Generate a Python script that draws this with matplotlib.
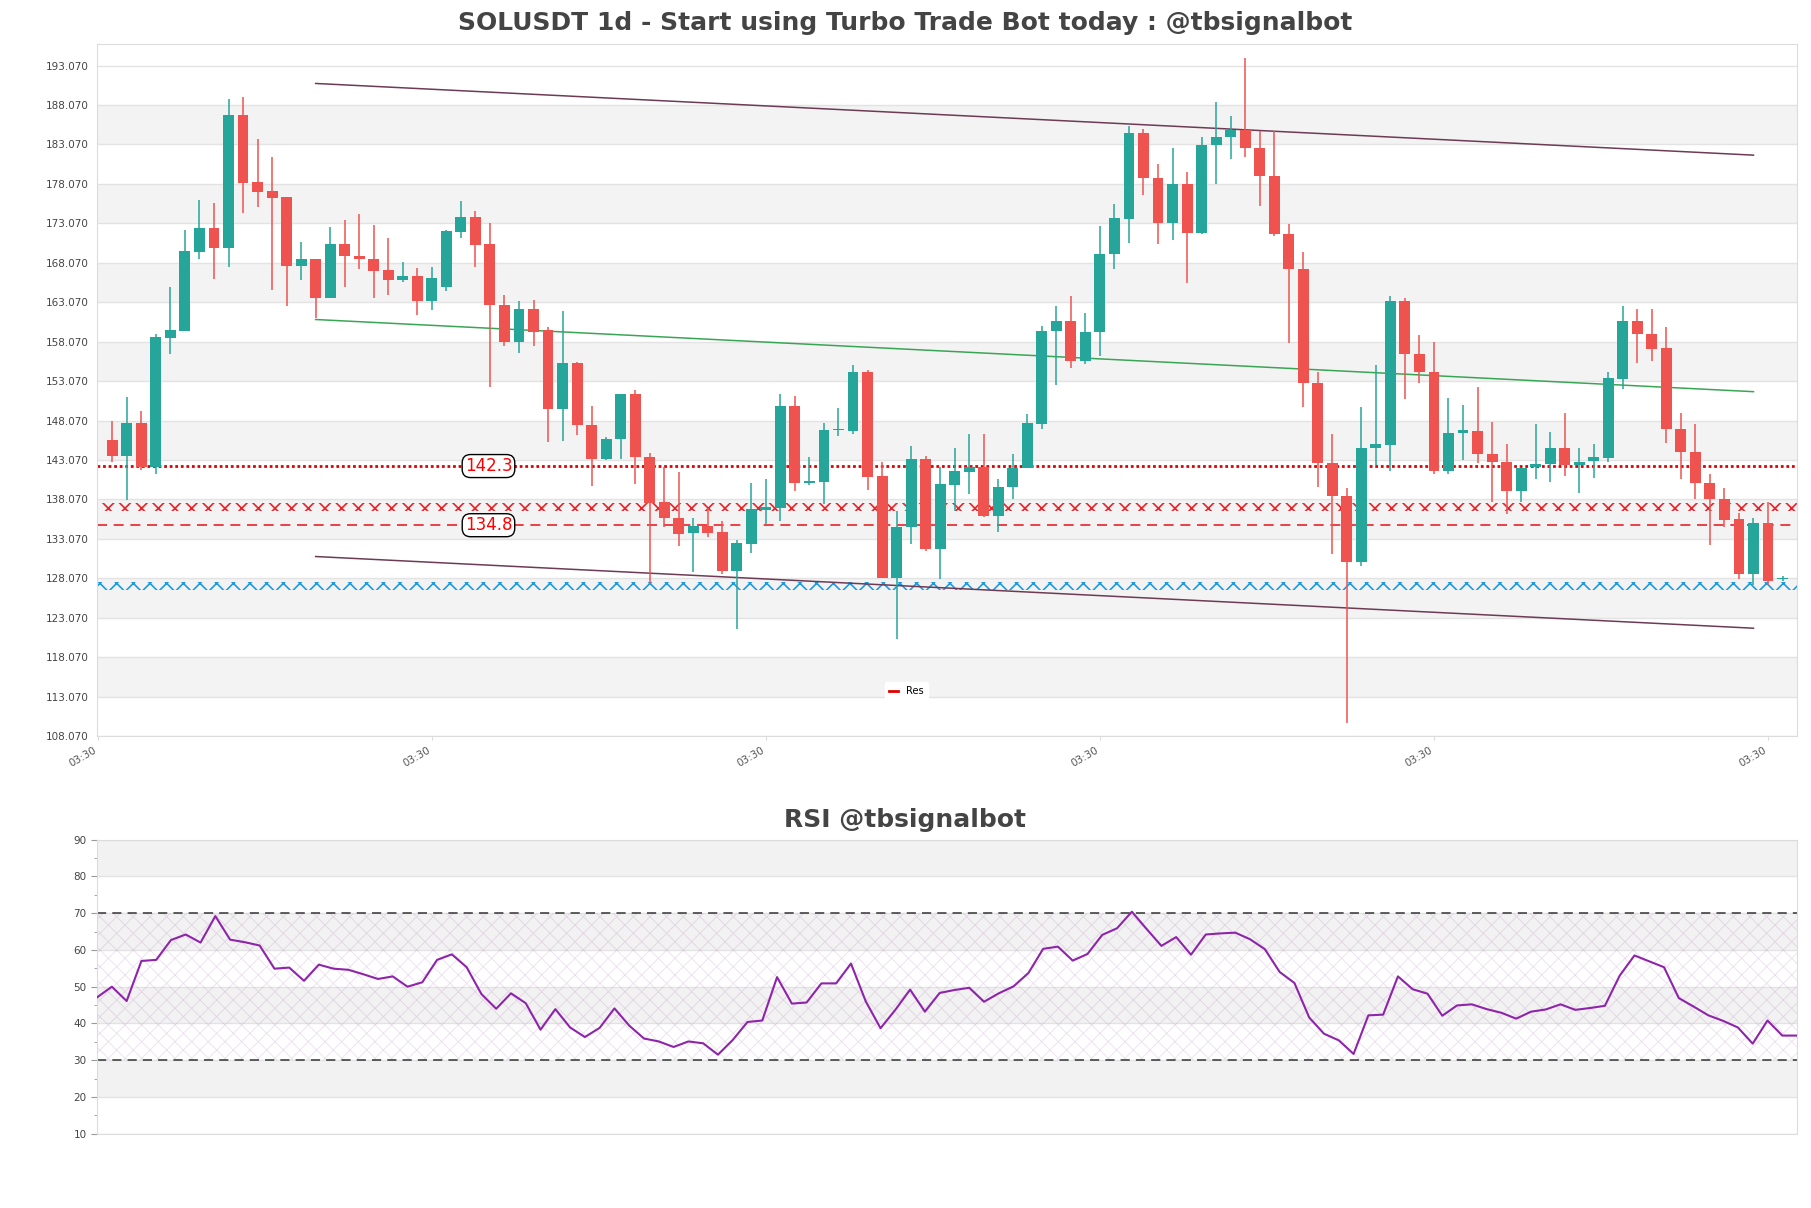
import matplotlib
matplotlib.use('Agg')
import matplotlib.pyplot as plt
import numpy as np
from matplotlib.lines import Line2D

# daily candles
opens = [145.66, 143.52, 147.79, 142.17, 158.54, 159.38, 169.45, 172.48, 170.01, 186.83,
         178.28, 177.15, 176.37, 167.70, 168.55, 163.60, 170.46, 168.94, 168.55, 167.20,
         165.85, 166.41, 163.26, 165.06, 172.03, 173.83, 170.46, 162.76, 158.03, 162.25,
         159.55, 149.54, 155.33, 147.51, 143.24, 145.71, 151.45, 143.41, 137.72, 135.76,
         133.79, 134.74, 133.90, 128.95, 132.44, 136.77, 137.00, 149.93, 140.20, 140.31,
         146.85, 146.78, 154.20, 140.99, 128.05, 134.52, 143.24, 131.82, 139.92, 141.55,
         142.17, 135.98, 139.69, 142.06, 147.68, 159.44, 160.73, 155.67, 159.32, 169.17,
         173.61, 184.58, 178.84, 173.10, 178.11, 171.87, 183.00, 184.01, 184.97, 182.61,
         179.07, 171.70, 167.31, 152.86, 142.68, 138.51, 130.08, 144.64, 144.93, 163.20,
         156.46, 154.20, 141.72, 146.50, 146.78, 143.86, 142.85, 139.19, 142.17, 142.56,
         144.53, 142.45, 142.96, 143.30, 153.31, 160.73, 159.04, 157.24, 146.95, 144.08,
         140.14, 138.12, 135.53, 128.67, 135.14, 127.94]
highs = [148.02, 151.05, 149.26, 158.99, 164.95, 172.20, 176.03, 175.63, 188.80, 189.13,
         183.79, 181.54, 176.37, 170.68, 168.55, 172.60, 173.50, 174.23, 172.82, 171.19,
         168.15, 167.42, 167.54, 172.20, 175.86, 174.68, 173.10, 164.05, 163.26, 163.37,
         159.94, 161.91, 155.50, 149.88, 146.00, 151.45, 151.90, 144.00, 142.17, 141.50,
         135.70, 137.00, 135.31, 132.95, 140.14, 140.60, 151.45, 151.17, 143.41, 147.79,
         149.65, 155.11, 154.54, 142.85, 136.66, 144.81, 143.63, 142.17, 144.53, 146.39,
         146.39, 140.71, 143.86, 148.86, 160.00, 162.64, 163.88, 161.74, 172.71, 175.58,
         185.42, 185.03, 180.58, 182.67, 179.57, 184.01, 188.46, 186.71, 194.03, 184.80,
         184.80, 172.93, 169.45, 154.20, 146.33, 139.47, 149.76, 155.05, 163.82, 163.65,
         158.87, 158.03, 150.94, 150.04, 152.35, 147.91, 145.15, 142.11, 147.68, 146.56,
         149.03, 144.53, 145.15, 154.20, 162.53, 162.25, 162.25, 159.94, 149.03, 147.57,
         141.33, 139.47, 136.32, 135.70, 137.78, 128.30]
lows = [142.85, 138.01, 141.83, 141.27, 156.51, 159.38, 168.55, 166.07, 167.59, 174.40,
        175.13, 164.67, 162.53, 165.91, 161.07, 163.60, 165.00, 167.31, 163.65, 164.05,
        165.68, 161.41, 162.08, 164.44, 171.19, 167.59, 152.35, 157.47, 156.63, 157.58,
        145.32, 145.49, 146.22, 139.75, 143.07, 143.18, 140.03, 127.38, 134.58, 132.16,
        128.90, 133.29, 128.62, 121.64, 131.32, 134.97, 135.37, 139.13, 139.86, 137.50,
        146.05, 146.33, 139.25, 128.05, 120.35, 132.44, 131.48, 128.00, 136.66, 138.74,
        135.81, 133.96, 138.12, 142.06, 147.00, 152.58, 154.77, 155.22, 156.23, 167.31,
        170.52, 176.70, 170.40, 171.02, 165.45, 171.70, 178.05, 181.20, 181.48, 175.30,
        171.53, 157.92, 149.82, 139.69, 131.20, 109.66, 129.63, 142.40, 141.61, 150.83,
        152.80, 141.27, 141.27, 143.07, 142.73, 137.78, 136.27, 137.78, 140.60, 140.31,
        140.99, 138.91, 140.76, 142.85, 152.13, 155.39, 155.61, 145.21, 140.60, 138.12,
        132.27, 134.58, 127.94, 127.21, 127.21, 127.70]
closes = [143.52, 147.79, 142.17, 158.65, 159.49, 169.56, 172.48, 170.01, 186.83, 178.17,
          177.04, 176.31, 167.70, 168.55, 163.60, 170.46, 168.89, 168.49, 167.09, 165.85,
          166.41, 163.26, 166.17, 172.09, 173.83, 170.35, 162.70, 158.03, 162.25, 159.27,
          149.54, 155.33, 147.46, 143.24, 145.77, 151.45, 143.41, 137.61, 135.76, 133.73,
          134.74, 133.85, 128.95, 132.55, 136.83, 137.11, 149.93, 140.14, 140.43, 146.89,
          146.95, 154.20, 140.88, 128.05, 134.52, 143.24, 131.82, 140.03, 141.61, 142.17,
          135.98, 139.69, 142.06, 147.79, 159.44, 160.73, 155.67, 159.32, 169.17, 173.72,
          184.58, 178.84, 173.10, 178.11, 171.87, 183.06, 184.01, 184.97, 182.61, 179.07,
          171.70, 167.31, 152.86, 142.68, 138.51, 130.08, 144.64, 145.04, 163.20, 156.46,
          154.20, 141.72, 146.50, 146.89, 143.86, 142.85, 139.19, 142.11, 142.56, 144.53,
          142.45, 142.85, 143.41, 153.42, 160.73, 159.04, 157.13, 146.95, 144.03, 140.14,
          138.12, 135.42, 128.67, 135.14, 127.77, 128.10]

rsi = [47.1, 50.0, 46.1, 57.0, 57.3, 62.7, 64.2, 62.0, 69.2, 62.8,
       62.1, 61.2, 54.9, 55.2, 51.6, 56.0, 54.9, 54.6, 53.4, 52.1,
       52.8, 50.0, 51.2, 57.3, 58.8, 55.3, 48.0, 44.0, 48.2, 45.5,
       38.3, 43.9, 38.9, 36.3, 38.8, 44.1, 39.4, 35.9, 35.1, 33.6,
       35.1, 34.6, 31.5, 35.5, 40.4, 40.8, 52.6, 45.4, 45.7, 50.9,
       50.9, 56.3, 46.0, 38.7, 43.7, 49.2, 43.2, 48.3, 49.1, 49.7,
       45.9, 48.2, 50.1, 53.7, 60.3, 60.9, 57.1, 58.9, 64.1, 65.9,
       70.4, 65.7, 61.1, 63.5, 58.7, 64.2, 64.5, 64.7, 62.9, 60.2,
       54.0, 51.0, 41.6, 37.2, 35.4, 31.7, 42.2, 42.4, 52.8, 49.3,
       48.1, 42.1, 44.9, 45.2, 43.9, 42.9, 41.3, 43.2, 43.8, 45.2,
       43.7, 44.2, 44.8, 53.0, 58.5, 56.9, 55.3, 46.9, 44.6, 42.2,
       40.7, 38.9, 34.5, 40.8, 36.7, 36.7]

price_ticks = [108.07, 113.07, 118.07, 123.07, 128.07, 133.07, 138.07, 143.07, 148.07,
               153.07, 158.07, 163.07, 168.07, 173.07, 178.07, 183.07, 188.07, 193.07]
x_tick_pos = [-1, 22, 45, 68, 91, 114]
x_tick_labels = ['03:30', '03:30', '03:30', '03:30', '03:30', '03:30']
rsi_ticks = [10, 20, 30, 40, 50, 60, 70, 80, 90]

res_level = 142.3
sup_level = 134.8
red_zone = 137.1
blue_zone = 127.1

channel_x = [14, 113]
channel_upper = [190.81, 181.72]
channel_mid = [160.88, 151.73]
channel_lower = [130.83, 121.74]

up_color = '#26a69a'
down_color = '#ef5350'
spine_color = '#dcdcdc'
text_color = '#444444'

fig = plt.figure(figsize=(18.11, 12.08), dpi=100)
ax = fig.add_axes([0.0536, 0.3907, 0.9387, 0.5728])
ax2 = fig.add_axes([0.0536, 0.0615, 0.9387, 0.2434])

# price panel
x = np.arange(len(opens))
o = np.array(opens)
c = np.array(closes)
cols = [up_color if c[i] >= o[i] else down_color for i in x]
body = np.maximum(np.abs(c - o), 0.15)
ax.vlines(x, lows, highs, colors=cols, linewidth=1.1, zorder=3)
ax.bar(x, body, bottom=np.minimum(o, c), width=0.75, color=cols, zorder=4)

for k in range(1, len(price_ticks) - 1, 2):
    ax.axhspan(price_ticks[k], price_ticks[k + 1], color='#f3f3f3', zorder=0, lw=0)

xmin, xmax = -1.05, 116.0
with plt.rc_context({'hatch.linewidth': 1.2}):
    ax.fill_between([xmin, xmax], red_zone - 0.55, red_zone + 0.55, facecolor='none',
                    edgecolor='#e8242a', hatch='xx', linewidth=0, zorder=2)
    ax.fill_between([xmin, xmax], blue_zone - 0.55, blue_zone + 0.55, facecolor='none',
                    edgecolor='#1e9be0', hatch='xx', linewidth=0, zorder=2)

ax.axhline(res_level, color='#e00000', linestyle=(0, (1, 1)), linewidth=2.0, zorder=2)
ax.axhline(sup_level, color='#e8242a', linestyle=(0, (6, 4)), linewidth=1.2, zorder=2)

ax.plot(channel_x, channel_upper, color='#6e3b55', lw=1.1, zorder=2)
ax.plot(channel_x, channel_lower, color='#6e3b55', lw=1.1, zorder=2)
ax.plot(channel_x, channel_mid, color='#3aa655', lw=1.1, zorder=2)

for lvl in [res_level, sup_level]:
    ax.text(25.9, lvl, str(lvl), color='red', fontsize=12, ha='center', va='center', zorder=6,
            bbox=dict(boxstyle='round,pad=0.15,rounding_size=0.5', fc='white', ec='black', lw=1))

ax.set_xlim(xmin, xmax)
ax.set_ylim(108.07, 195.8)
ax.set_yticks(price_ticks)
ax.set_yticklabels([f'{t:.3f}' for t in price_ticks], fontsize=7.5, color=text_color)
ax.set_xticks(x_tick_pos)
ax.set_xticklabels(x_tick_labels, rotation=30, ha='right', fontsize=7.5, color='#555555')
ax.tick_params(axis='y', length=0, pad=6)
ax.tick_params(axis='x', length=3, color=spine_color)
ax.yaxis.grid(True, color='#e3e3e3', lw=1)
ax.set_axisbelow(True)
for s in ax.spines.values():
    s.set_color(spine_color)

ax.legend(handles=[Line2D([], [], color='#e00000', lw=2)], labels=['Res'], loc='center',
          bbox_to_anchor=(0.476, 0.065), fontsize=7, frameon=True, edgecolor='white',
          handlelength=1.0, framealpha=1)

# rsi panel
rsi_x = np.arange(len(rsi))
for lo in [20, 40, 60, 80]:
    ax2.axhspan(lo, lo + 10, color='#f2f2f2', zorder=0, lw=0)
with plt.rc_context({'hatch.linewidth': 0.6}):
    ax2.fill_between([0, len(rsi) - 1], 30, 70, facecolor='none',
                     edgecolor=(0.6, 0.38, 0.65, 0.2), hatch='xx', linewidth=0, zorder=1)
ax2.axhline(70, color='#333333', linestyle=(0, (6, 4)), lw=1.1, zorder=2)
ax2.axhline(30, color='#333333', linestyle=(0, (6, 4)), lw=1.1, zorder=2)
ax2.plot(rsi_x, rsi, color='#8e24aa', lw=1.5, zorder=3)

ax2.set_xlim(0, len(rsi) - 1)
ax2.set_ylim(10, 90)
ax2.set_yticks(rsi_ticks)
ax2.set_yticks([15, 25, 35, 45, 55, 65, 75, 85], minor=True)
ax2.set_yticklabels([str(t) for t in rsi_ticks], fontsize=7.5, color=text_color)
ax2.set_xticks([])
ax2.tick_params(axis='y', which='major', length=4, color='#999999')
ax2.tick_params(axis='y', which='minor', length=2, color='#999999')
ax2.yaxis.grid(True, color='#e3e3e3', lw=1)
ax2.set_axisbelow(True)
for s in ax2.spines.values():
    s.set_color(spine_color)

fig.text(0.5, 0.981, 'SOLUSDT 1d - Start using Turbo Trade Bot today : @tbsignalbot',
         ha='center', va='center', fontsize=18, fontweight='bold', color=text_color)
fig.text(0.5, 0.321, 'RSI @tbsignalbot', ha='center', va='center', fontsize=18,
         fontweight='bold', color=text_color)

fig.savefig('out.png', dpi=100)
